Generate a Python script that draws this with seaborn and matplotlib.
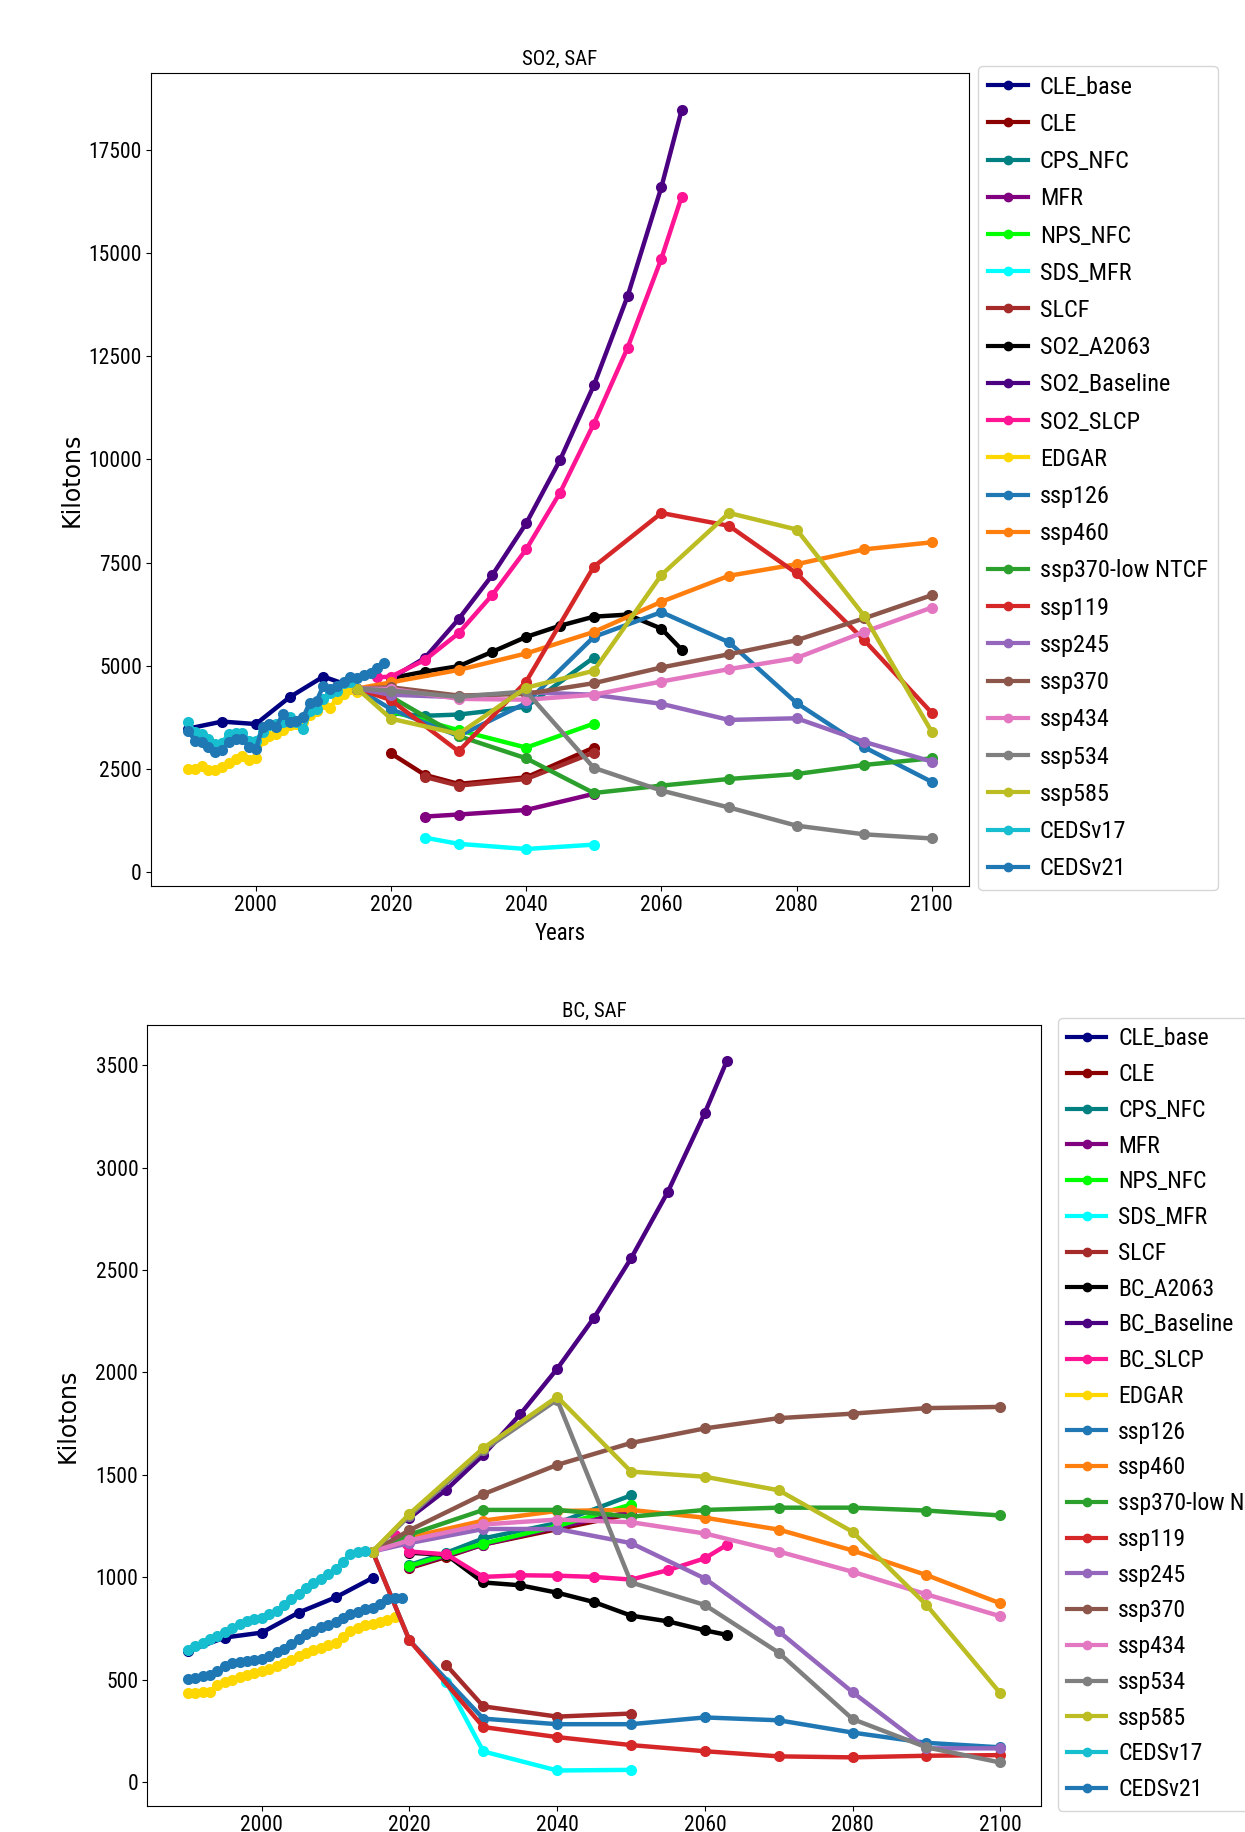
import matplotlib
matplotlib.use("Agg")
import matplotlib.pyplot as plt
import pandas as pd
import seaborn as sns
from matplotlib.lines import Line2D

# ---------------------------------------------------------------- scenario names / colours
scenarios_so2 = ["CLE_base", "CLE", "CPS_NFC", "MFR", "NPS_NFC", "SDS_MFR", "SLCF",
                 "SO2_A2063", "SO2_Baseline", "SO2_SLCP", "EDGAR", "ssp126", "ssp460",
                 "ssp370-low NTCF", "ssp119", "ssp245", "ssp370", "ssp434", "ssp534",
                 "ssp585", "CEDSv17", "CEDSv21"]
scenarios_bc = ["CLE_base", "CLE", "CPS_NFC", "MFR", "NPS_NFC", "SDS_MFR", "SLCF",
                "BC_A2063", "BC_Baseline", "BC_SLCP", "EDGAR", "ssp126", "ssp460",
                "ssp370-low NTCF", "ssp119", "ssp245", "ssp370", "ssp434", "ssp534",
                "ssp585", "CEDSv17", "CEDSv21"]
line_colors = ["#000080", "#8b0000", "#008080", "#800080", "#00ff00", "#00ffff", "#a52a2a",
               "#000000", "#4b0082", "#ff1493", "#ffd700", "#1f77b4", "#ff7f0e",
               "#2ca02c", "#d62728", "#9467bd", "#8c564b", "#e377c2", "#7f7f7f",
               "#bcbd22", "#17becf", "#1f77b4"]

# ---------------------------------------------------------------- shared year axes
ssp_years = [2015, 2020, 2030, 2040, 2050, 2060, 2070, 2080, 2090, 2100]
gains_years = [2020, 2025, 2030, 2035, 2040, 2045, 2050, 2055, 2060, 2063]
slcp_years = [2018] + gains_years
cle_base_years = [1990, 1995, 2000, 2005, 2010, 2015]
cle_years = [2020, 2025, 2030, 2040, 2050]
cps_years = [2020, 2025, 2030, 2040, 2050]
short_years = [2025, 2030, 2040, 2050]

# ---------------------------------------------------------------- SO2 (kilotons)
so2_cle_base = [3480, 3650, 3590, 4240, 4740, 4450]
so2_cle = [2880, 2360, 2140, 2300, 3020]
so2_cps_nfc = [3850, 3790, 3820, 4010, 5200]
so2_mfr = [1350, 1400, 1510, 1900]
so2_nps_years = [2020, 2030, 2040, 2050]
so2_nps_nfc = [3900, 3440, 3020, 3600]
so2_sds_mfr = [840, 690, 565, 670]
so2_slcf = [2310, 2100, 2260, 2900]
so2_a2063 = [4700, 4860, 4990, 5340, 5700, 5970, 6190, 6240, 5900, 5390]
so2_baseline = [4700, 5190, 6130, 7200, 8450, 9980, 11790, 13950, 16590, 18460]
so2_slcp = [4720, 4740, 5140, 5790, 6720, 7820, 9190, 10860, 12700, 14860, 16360]
so2_edgar_years = list(range(1990, 2016))
so2_edgar = [2500, 2500, 2580, 2475, 2475, 2540, 2640, 2740, 2820, 2720, 2770, 3200, 3300,
             3350, 3450, 3560, 3600, 3650, 3800, 3900, 4070, 3990, 4200, 4320, 4440, 4360]
so2_ssp126 = [4450, 3950, 3300, 4100, 5700, 6300, 5570, 4100, 3030, 2190]
so2_ssp460 = [4450, 4600, 4900, 5300, 5820, 6550, 7180, 7460, 7820, 7990]
so2_ssp370_low = [4450, 4250, 3300, 2760, 1920, 2100, 2260, 2380, 2600, 2760]
so2_ssp119 = [4450, 4170, 2930, 4620, 7400, 8700, 8390, 7240, 5620, 3860]
so2_ssp245 = [4450, 4300, 4240, 4360, 4300, 4080, 3690, 3730, 3160, 2680]
so2_ssp370 = [4450, 4480, 4280, 4320, 4580, 4960, 5280, 5620, 6150, 6710]
so2_ssp434 = [4450, 4440, 4200, 4180, 4300, 4620, 4920, 5190, 5820, 6410]
so2_ssp534 = [4450, 4400, 4250, 4380, 2530, 1980, 1570, 1130, 920, 820]
so2_ssp585 = [4450, 3720, 3350, 4470, 4880, 7200, 8700, 8300, 6210, 3400]
so2_cedsv17_years = list(range(1990, 2015))
so2_cedsv17 = [3630, 3390, 3350, 3230, 3100, 3140, 3340, 3380, 3380, 3180, 3190, 3400,
               3560, 3600, 3650, 3750, 3640, 3470, 3900, 3950, 4200, 4330, 4400, 4580, 4600]
so2_cedsv21_years = list(range(1990, 2020))
so2_cedsv21 = [3430, 3190, 3150, 3030, 2910, 2950, 3150, 3230, 3230, 3030, 2980, 3510,
               3590, 3510, 3830, 3630, 3670, 3750, 4110, 4150, 4520, 4440, 4520, 4600,
               4720, 4700, 4780, 4820, 4940, 5080]

# ---------------------------------------------------------------- BC (kilotons)
bc_cle_base = [640, 706, 730, 828, 902, 997]
bc_cle = [1045, 1100, 1160, 1235, 1310]
bc_cps_nfc = [1060, 1120, 1190, 1265, 1400]
bc_mfr_years = [2020, 2030, 2040, 2050]
bc_mfr = [1050, 1160, 1245, 1320]
bc_nps_years = [2020, 2025, 2030, 2040, 2050]
bc_nps_nfc = [1055, 1110, 1165, 1250, 1355]
bc_sds_mfr = [488, 150, 57, 60]
bc_slcf = [571, 370, 320, 335]
bc_a2063 = [1120, 1110, 975, 961, 925, 879, 813, 785, 741, 719]
bc_baseline = [1290, 1428, 1598, 1796, 2018, 2268, 2557, 2883, 3268, 3523]
bc_slcp = [1205, 1126, 1112, 1002, 1010, 1008, 1002, 989, 1035, 1093, 1159]
bc_edgar_years = list(range(1990, 2019))
bc_edgar = [433, 435, 439, 440, 476, 490, 501, 513, 525, 533, 541, 553, 566, 582, 598,
            615, 631, 644, 656, 668, 680, 708, 738, 752, 766, 773, 780, 792, 804]
bc_ssp126 = [1126, 692, 310, 283, 283, 316, 302, 242, 192, 170]
bc_ssp460 = [1126, 1195, 1277, 1324, 1329, 1291, 1233, 1131, 1011, 873]
bc_ssp370_low = [1126, 1208, 1329, 1329, 1296, 1329, 1340, 1340, 1326, 1302]
bc_ssp119 = [1126, 692, 269, 220, 181, 151, 126, 121, 129, 132]
bc_ssp245 = [1126, 1167, 1236, 1236, 1167, 994, 736, 439, 165, 165]
bc_ssp370 = [1126, 1230, 1406, 1549, 1656, 1727, 1777, 1799, 1826, 1832]
bc_ssp434 = [1126, 1181, 1258, 1282, 1269, 1214, 1126, 1027, 917, 810]
bc_ssp534 = [1126, 1300, 1620, 1867, 975, 865, 632, 308, 170, 96]
bc_ssp585 = [1126, 1310, 1631, 1881, 1516, 1491, 1425, 1222, 865, 434]
bc_cedsv17_years = list(range(1990, 2015))
bc_cedsv17 = [645, 663, 681, 697, 713, 733, 754, 770, 787, 795, 803, 820, 836, 865, 893,
              920, 950, 970, 991, 1015, 1040, 1075, 1114, 1125, 1130]
bc_cedsv21_years = list(range(1990, 2020))
bc_cedsv21 = [506, 510, 518, 525, 543, 565, 580, 585, 592, 598, 603, 618, 633, 652, 674,
              700, 723, 740, 756, 768, 781, 800, 820, 832, 844, 852, 870, 893, 897, 897]

so2_series = [
    (cle_base_years, so2_cle_base), (cle_years, so2_cle), (cps_years, so2_cps_nfc),
    (short_years, so2_mfr), (so2_nps_years, so2_nps_nfc), (short_years, so2_sds_mfr),
    (short_years, so2_slcf), (gains_years, so2_a2063), (gains_years, so2_baseline),
    (slcp_years, so2_slcp), (so2_edgar_years, so2_edgar), (ssp_years, so2_ssp126),
    (ssp_years, so2_ssp460), (ssp_years, so2_ssp370_low), (ssp_years, so2_ssp119),
    (ssp_years, so2_ssp245), (ssp_years, so2_ssp370), (ssp_years, so2_ssp434),
    (ssp_years, so2_ssp534), (ssp_years, so2_ssp585), (so2_cedsv17_years, so2_cedsv17),
    (so2_cedsv21_years, so2_cedsv21)]
bc_series = [
    (cle_base_years, bc_cle_base), (cle_years, bc_cle), (cps_years, bc_cps_nfc),
    (bc_mfr_years, bc_mfr), (bc_nps_years, bc_nps_nfc), (short_years, bc_sds_mfr),
    (short_years, bc_slcf), (gains_years, bc_a2063), (gains_years, bc_baseline),
    (slcp_years, bc_slcp), (bc_edgar_years, bc_edgar), (ssp_years, bc_ssp126),
    (ssp_years, bc_ssp460), (ssp_years, bc_ssp370_low), (ssp_years, bc_ssp119),
    (ssp_years, bc_ssp245), (ssp_years, bc_ssp370), (ssp_years, bc_ssp434),
    (ssp_years, bc_ssp534), (ssp_years, bc_ssp585), (bc_cedsv17_years, bc_cedsv17),
    (bc_cedsv21_years, bc_cedsv21)]


def long_frame(names, series):
    rows = []
    for name, (years, values) in zip(names, series):
        for yr, val in zip(years, values):
            rows.append({"scenario": name, "year": yr, "value": val})
    return pd.DataFrame(rows)


# narrow face for ticks, titles and legends; the first installed one wins
NARROW = ["Liberation Sans Narrow", "Roboto Condensed", "Open Sans Condensed",
          "DejaVu Sans"]
plt.rcParams["font.family"] = NARROW
plt.rcParams["font.stretch"] = "condensed"

fig = plt.figure(figsize=(12.45, 18.32), dpi=100)
ax_top = fig.add_axes([0.1213, 0.5164, 0.6570, 0.4438])
ax_bot = fig.add_axes([0.1183, 0.0142, 0.7178, 0.4263])


def draw_panel(ax, names, series, title, legend_size, spacing, legend_anchor, label_x):
    df = long_frame(names, series)
    palette = dict(zip(names, line_colors))
    sns.lineplot(data=df, x="year", y="value", hue="scenario", hue_order=names,
                 palette=palette, marker="o", markersize=8, markeredgewidth=0,
                 linewidth=3.2, estimator=None, sort=True, legend=False, ax=ax)
    ax.set_title(title, fontsize=15)
    ax.set_ylabel("Kilotons", fontsize=17, family="DejaVu Sans", fontstretch="normal")
    ax.yaxis.set_label_coords(label_x, 0.5)
    ax.set_xlabel("")
    ax.tick_params(labelsize=15.5, pad=3)
    handles = [Line2D([], [], color=c, lw=3, marker="o", markersize=6)
               for c in line_colors]
    ax.legend(handles, names, loc="upper left", bbox_to_anchor=legend_anchor,
              borderaxespad=0, fontsize=legend_size, labelspacing=spacing,
              handlelength=1.65, handletextpad=0.5)


draw_panel(ax_top, scenarios_so2, so2_series, "SO2, SAF", 17.5, 0.585,
           (1.011, 1.0086), -0.083)
ax_top.set_xlabel("Years", fontsize=16.5)
draw_panel(ax_bot, scenarios_bc, bc_series, "BC, SAF", 17, 0.54,
           (1.019, 1.009), -0.076)

fig.savefig("out.png", dpi=100)
